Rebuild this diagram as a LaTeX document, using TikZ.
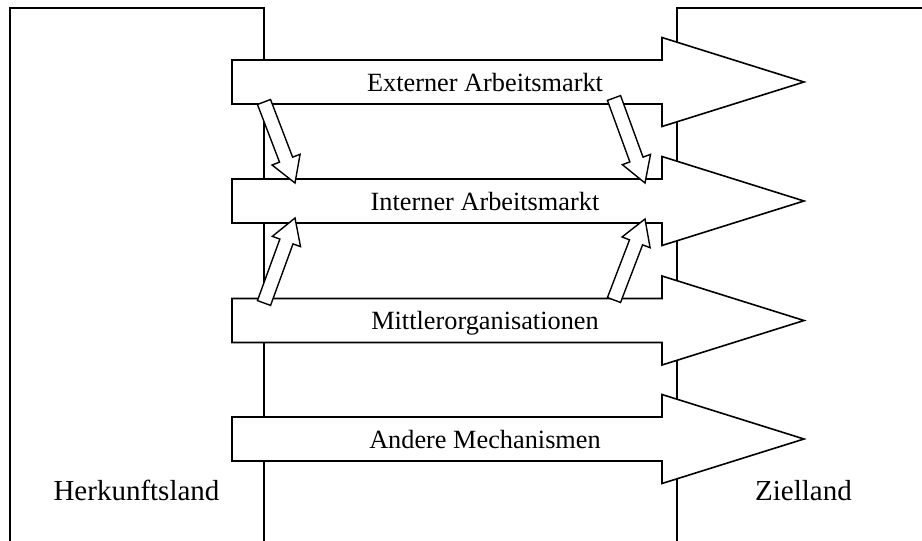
\documentclass[tikz,border=0pt]{standalone}
\usepackage{fontspec}
\setmainfont{Liberation Serif}
\usetikzlibrary{calc}

\tikzset{
  land/.style = {line width=1.6pt},
  bigarrow/.style = {line width=1.6pt, fill=white, line join=miter},
  smallarrow/.style = {line width=1.4pt, fill=white, line join=miter},
  channel/.style = {font=\fontsize{26.3}{30}\selectfont, inner sep=0pt, anchor=base},
  country/.style = {font=\fontsize{29}{33}\selectfont, inner sep=0pt, anchor=base}
}

% hollow block arrow from #1 to #2
\newcommand{\flowarrow}[2]{%
  \draw[smallarrow]
    ($(#1)!7pt!90:(#2)$) --
    ($($(#2)!25pt!(#1)$)!7pt!90:(#2)$) --
    ($($(#2)!25pt!(#1)$)!15pt!90:(#2)$) --
    (#2) --
    ($($(#2)!25pt!(#1)$)!15pt!-90:(#2)$) --
    ($($(#2)!25pt!(#1)$)!7pt!-90:(#2)$) --
    ($(#1)!7pt!-90:(#2)$) -- cycle;}

\begin{document}
\begin{tikzpicture}[x=1pt, y=-1pt]
    \useasboundingbox (0,0) rectangle (922,541);

    % Herkunftsland and Zielland
    \draw[land] (10,545) -- (10,8) -- (264,8) -- (264,545);
    \draw[land] (677,545) -- (677,8) -- (925,8);
    \node[country] (herkunft) at (136.5,500) {Herkunftsland};
    \node[country] (ziel) at (803.5,500) {Zielland};

    % the four channels
    \foreach \y/\name/\txt in {82/ext/Externer Arbeitsmarkt,
                               201/int/Interner Arbeitsmarkt,
                               320.5/mit/Mittlerorganisationen,
                               439/and/Andere Mechanismen} {
        \draw[bigarrow] (232,\y-22) -- (662,\y-22) -- (662,\y-44.5) -- (804,\y)
            -- (662,\y+44.5) -- (662,\y+22) -- (232,\y+22) -- cycle;
        \node[channel] (\name) at (485,\y+9) {\txt};
    }

    % transitions between the channels
    \coordinate (extL) at (264,102);
    \coordinate (extR) at (614,98);
    \coordinate (intLt) at (295,183);
    \coordinate (intRt) at (645,183);
    \coordinate (intLb) at (295,218);
    \coordinate (intRb) at (645,219);
    \coordinate (mitL) at (264,303);
    \coordinate (mitR) at (614,300);

    \flowarrow{extL}{intLt}
    \flowarrow{extR}{intRt}
    \flowarrow{mitL}{intLb}
    \flowarrow{mitR}{intRb}
\end{tikzpicture}
\end{document}
